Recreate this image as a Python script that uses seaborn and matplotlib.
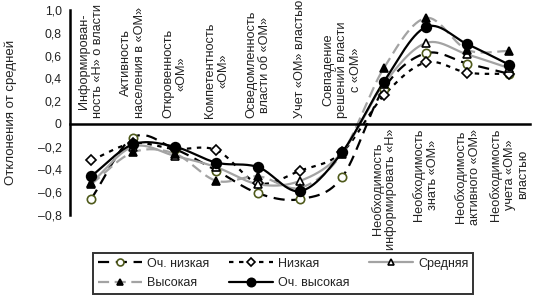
import numpy as np
import matplotlib
matplotlib.use("Agg")
import matplotlib.pyplot as plt
from matplotlib.lines import Line2D
from matplotlib.ticker import FixedLocator, FuncFormatter
import seaborn as sns

# Категории (подписи по оси X)
categories = [
    "Информирован-\nность «Н» о власти",
    "Активность\nнаселения в «ОМ»",
    "Откровенность\n«ОМ»",
    "Компетентность\n«ОМ»",
    "Осведомленность\nвласти об «ОМ»",
    "Учет «ОМ» властью",
    "Совпадение\nрешений власти\nс «ОМ»",
    "Необходимость\nинформировать «Н»",
    "Необходимость\nзнать «ОМ»",
    "Необходимость\nактивного «ОМ»",
    "Необходимость\nучета «ОМ»\nвластью",
]

# Отклонения от средней по группам
och_nizkaya = [-0.66, -0.12, -0.22, -0.41, -0.61, -0.66, -0.47, 0.31, 0.62, 0.53, 0.44]
nizkaya = [-0.32, -0.17, -0.22, -0.23, -0.52, -0.41, -0.25, 0.25, 0.54, 0.45, 0.44]
srednyaya = [-0.52, -0.20, -0.28, -0.38, -0.53, -0.50, -0.25, 0.35, 0.71, 0.61, 0.49]
vysokaya = [-0.53, -0.25, -0.26, -0.50, -0.46, -0.56, -0.26, 0.49, 0.93, 0.65, 0.64]
och_vysokaya = [-0.46, -0.18, -0.20, -0.34, -0.38, -0.59, -0.25, 0.37, 0.85, 0.70, 0.52]

series_names = ["Оч. низкая", "Низкая", "Средняя", "Высокая", "Оч. высокая"]

sns.set_theme(style="white")
plt.rcParams["font.family"] = ["Liberation Sans", "DejaVu Sans"]


def smooth(y, n=30):
    """Сглаженная линия как в Excel (Catmull-Rom)."""
    y = np.asarray(y, dtype=float)
    x = np.arange(len(y), dtype=float)
    m = np.empty_like(y)
    m[1:-1] = (y[2:] - y[:-2]) / 2
    m[0] = y[1] - y[0]
    m[-1] = y[-1] - y[-2]
    xs, ys = [], []
    t = np.linspace(0, 1, n, endpoint=False)
    h00 = 2 * t**3 - 3 * t**2 + 1
    h10 = t**3 - 2 * t**2 + t
    h01 = -2 * t**3 + 3 * t**2
    h11 = t**3 - t**2
    for i in range(len(y) - 1):
        xs.append(x[i] + t)
        ys.append(h00 * y[i] + h10 * m[i] + h01 * y[i + 1] + h11 * m[i + 1])
    xs.append([x[-1]])
    ys.append([y[-1]])
    return np.concatenate(xs), np.concatenate(ys)


gray = "#a3a3a3"
olive = "#4f5a1c"
txt = "#222222"
styles = [
    dict(color="black", ls=(0, (5, 3)), marker="o", mfc="white", mec=olive, ms=6),
    dict(color="black", ls=(0, (2, 2.5)), marker="D", mfc="white", mec="black", ms=5),
    dict(color=gray, ls="-", marker="^", mfc="white", mec="black", ms=6),
    dict(color=gray, ls=(0, (5, 2.5)), marker="^", mfc="black", mec="black", ms=6),
    dict(color="black", ls="-", marker="o", mfc="black", mec="black", ms=7),
]
all_series = [och_nizkaya, nizkaya, srednyaya, vysokaya, och_vysokaya]

fig = plt.figure(figsize=(5.35, 2.97), dpi=100)
ax = fig.add_axes([0.131, 0.276, 0.86, 0.69])

x = np.arange(len(categories))
handles = []
for name, vals, st in zip(series_names, all_series, styles):
    xs, ys = smooth(vals)
    sns.lineplot(x=xs, y=ys, ax=ax, color=st["color"], linestyle=st["ls"],
                 linewidth=1.6, sort=False, estimator=None, zorder=2)
    ax.plot(x, vals, linestyle="none", marker=st["marker"], markersize=st["ms"],
            markerfacecolor=st["mfc"], markeredgecolor=st["mec"],
            markeredgewidth=1.2, zorder=3)
    handles.append(Line2D([], [], color=st["color"], linestyle=st["ls"], linewidth=1.6,
                          marker=st["marker"], markersize=st["ms"] - 1,
                          markerfacecolor=st["mfc"], markeredgecolor=st["mec"],
                          markeredgewidth=1.2, label=name))

ax.set_xlim(-0.5, len(categories) - 0.5)
ax.set_ylim(-0.8, 1.0)

# оси: X проходит через ноль
for side in ["top", "right"]:
    ax.spines[side].set_visible(False)
ax.spines["bottom"].set_position(("data", 0))
for side in ["left", "bottom"]:
    ax.spines[side].set_linewidth(1.8)
    ax.spines[side].set_color("black")

ax.xaxis.set_major_locator(FixedLocator(np.arange(-0.5, len(categories), 1.0)))
ax.set_xticklabels([])
ax.yaxis.set_major_locator(FixedLocator(np.round(np.arange(-0.8, 1.01, 0.2), 1)))
ax.yaxis.set_major_formatter(FuncFormatter(
    lambda v, p: "0" if abs(v) < 1e-9 else f"{v:.1f}".replace(".", ",").replace("-", "–")))
ax.tick_params(axis="both", direction="inout", length=8, width=1.8, colors="black",
               labelsize=8.8, labelcolor=txt)
ax.tick_params(axis="y", pad=2)
ax.grid(False)

for i, lab in enumerate(categories):
    if i < 7:
        ax.text(i, 0.05, lab, rotation=90, ha="center", va="bottom",
                multialignment="center", fontsize=9.2, color=txt, linespacing=1.15)
    else:
        ax.text(i, -0.04, lab, rotation=90, ha="center", va="top",
                multialignment="center", fontsize=9.2, color=txt, linespacing=1.15)

fig.text(0.02, 0.62, "Отклонения от средней", rotation=90, ha="center", va="center",
         fontsize=9.5, color=txt)

order = [0, 3, 1, 4, 2]
leg = fig.legend([handles[k] for k in order], [series_names[k] for k in order],
                 ncol=3, loc="lower left", bbox_to_anchor=(0.174, 0.01),
                 frameon=True, fancybox=False, fontsize=9, handlelength=3.5,
                 columnspacing=1.6, handletextpad=0.4, borderpad=0.4,
                 labelspacing=0.6, borderaxespad=0)
leg.get_frame().set_edgecolor("black")
leg.get_frame().set_linewidth(1.4)
for t in leg.get_texts():
    t.set_color(txt)

fig.savefig("out.png", dpi=100)
